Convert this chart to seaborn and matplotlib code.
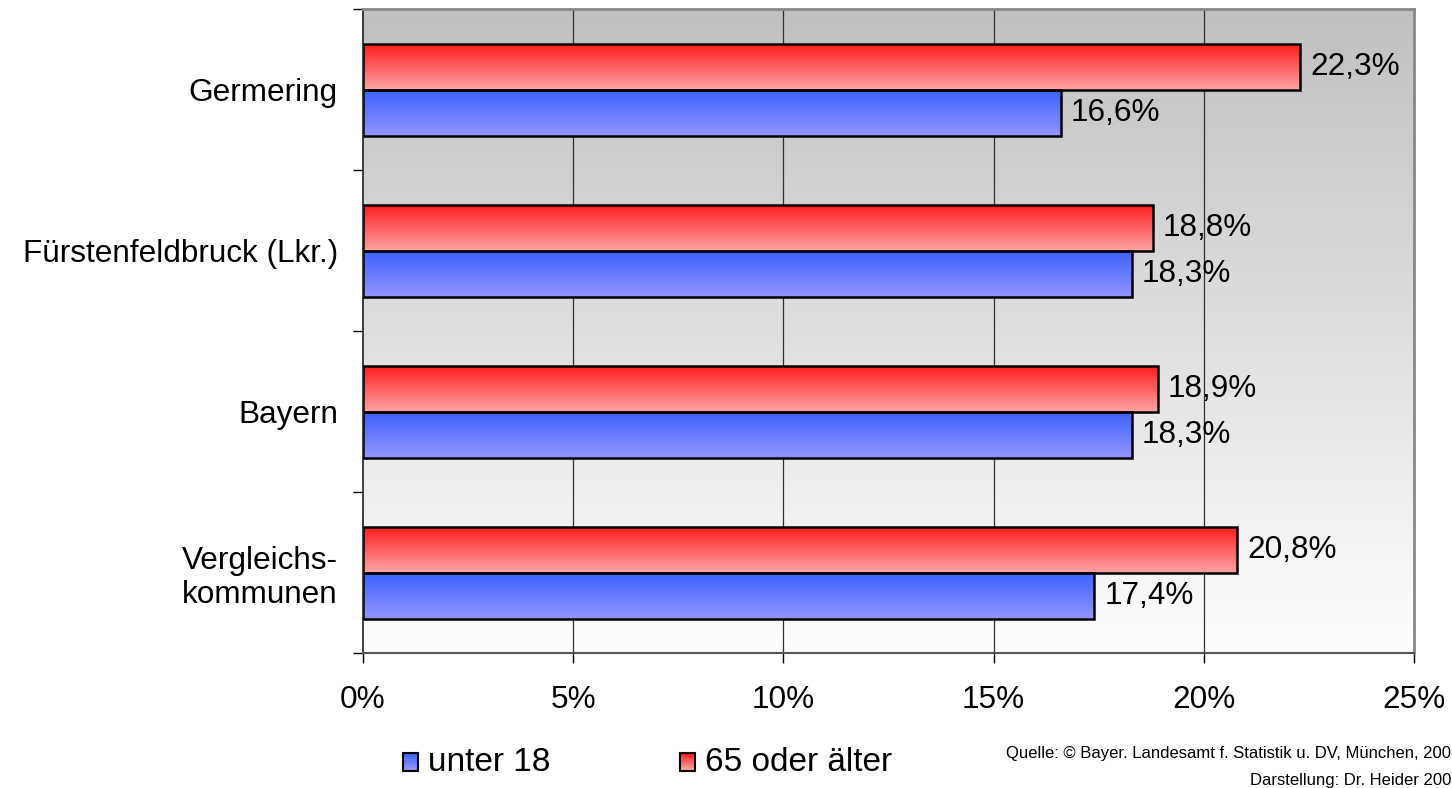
import numpy as np
import pandas as pd
import matplotlib
matplotlib.use("Agg")
import matplotlib.pyplot as plt
import seaborn as sns
from matplotlib.patches import Rectangle
from matplotlib.legend_handler import HandlerBase
from matplotlib.colors import to_rgb

regions = ["Germering", "Fürstenfeldbruck (Lkr.)", "Bayern", "Vergleichs-\nkommunen"]
unter_18 = [16.6, 18.3, 18.3, 17.4]
ab_65 = [22.3, 18.8, 18.9, 20.8]
groups = ["unter 18", "65 oder älter"]
x_ticks = [0, 5, 10, 15, 20, 25]

FS = 22.7

# gradient endpoints (top, bottom) for each series
grad = {
    "65 oder älter": ("#ff1c1c", "#ffa4a4"),
    "unter 18": ("#3a62ff", "#9494ff"),
}
palette = {"65 oder älter": "#ff1c1c", "unter 18": "#3a62ff"}

df = pd.DataFrame({
    "Region": regions * 2,
    "Gruppe": ["65 oder älter"] * len(regions) + ["unter 18"] * len(regions),
    "Anteil": ab_65 + unter_18,
})

sns.set_theme(style="white")
plt.rcParams["font.family"] = ["Liberation Sans", "DejaVu Sans"]
plt.rcParams["text.color"] = "black"
plt.rcParams["xtick.color"] = "black"
plt.rcParams["ytick.color"] = "black"

fig = plt.figure(figsize=(14.52, 7.88), dpi=100)
ax = fig.add_axes([0.25, 0.1713, 0.7238, 0.8167])

sns.barplot(data=df, x="Anteil", y="Region", hue="Gruppe",
            hue_order=["65 oder älter", "unter 18"], order=regions,
            orient="h", width=0.572, palette=palette, legend=False,
            ax=ax, saturation=1)

ax.set_xlim(0, 25)
ax.set_ylim(3.5, -0.5)


def gradient_img(top, bottom, n=64):
    t = np.linspace(0, 1, n)[:, None]
    c0 = np.array(to_rgb(top))
    c1 = np.array(to_rgb(bottom))
    return (c0 * (1 - t) + c1 * t)[:, None, :]


# plot-area background: grey at the top fading to white
ax.imshow(gradient_img("#c0c0c0", "#fefefe", 256), extent=[0, 1, 0, 1],
          transform=ax.transAxes, aspect="auto", zorder=0, origin="upper")

# gradient fill inside each bar
for container, name in zip(ax.containers, ["65 oder älter", "unter 18"]):
    top, bottom = grad[name]
    for bar in container:
        x0, y0 = bar.get_x(), bar.get_y()
        w, h = bar.get_width(), bar.get_height()
        img = ax.imshow(gradient_img(top, bottom), extent=[x0, x0 + w, y0 + h, y0],
                        aspect="auto", origin="upper", zorder=2,
                        interpolation="bilinear")
        img.set_clip_path(bar)
        bar.set_facecolor("none")
        bar.set_edgecolor("black")
        bar.set_linewidth(1.8)
        bar.set_zorder(3)
    ax.bar_label(container,
                 labels=[f"{v:.1f}%".replace(".", ",") for v in container.datavalues],
                 padding=7, fontsize=FS, color="black")

ax.set_xlim(0, 25)
ax.set_ylim(3.5, -0.5)

# vertical grid
for xv in x_ticks[1:-1]:
    ax.axvline(xv, color="#303030", lw=0.9, zorder=1)

ax.set_xticks(x_ticks)
ax.set_xticklabels([f"{v}%" for v in x_ticks], fontsize=FS)
ax.set_yticks(range(len(regions)))
ax.set_yticklabels(regions, fontsize=FS, ma="right", linespacing=1.15)
ax.set_yticks(np.arange(-0.5, len(regions), 1), minor=True)
ax.tick_params(axis="y", which="major", length=0, pad=18)
ax.tick_params(axis="y", which="minor", length=7, width=1, color="black", direction="out", left=True)
ax.tick_params(axis="x", which="major", length=7, width=1, color="black", direction="out", pad=16, bottom=True)
ax.set_xlabel("")
ax.set_ylabel("")

for side in ["top", "right"]:
    ax.spines[side].set_color("#888888")
    ax.spines[side].set_linewidth(2)
ax.spines["left"].set_color("#202020")
ax.spines["left"].set_linewidth(1.2)
ax.spines["bottom"].set_color("#555555")
ax.spines["bottom"].set_linewidth(1.5)
for s in ax.spines.values():
    s.set_zorder(5)


class GradientSquare(HandlerBase):
    def __init__(self, top, bottom):
        super().__init__()
        self.top, self.bottom = top, bottom

    def create_artists(self, legend, orig_handle, xdescent, ydescent,
                       width, height, fontsize, trans):
        artists = []
        n = 8
        cols = gradient_img(self.top, self.bottom, n)[:, 0, :]
        y_base = -ydescent - 0.12 * height
        for i in range(n):
            r = Rectangle((-xdescent, y_base + height * (n - 1 - i) / n),
                          width, height / n, facecolor=cols[i], edgecolor="none",
                          transform=trans)
            artists.append(r)
        artists.append(Rectangle((-xdescent, y_base), width, height,
                                 facecolor="none", edgecolor="black", lw=1.5,
                                 transform=trans))
        return artists


h_blue = Rectangle((0, 0), 1, 1)
h_red = Rectangle((0, 0), 1, 1)
fig.legend([h_blue, h_red], groups,
           handler_map={h_blue: GradientSquare(*grad["unter 18"]),
                        h_red: GradientSquare(*grad["65 oder älter"])},
           loc="center left", bbox_to_anchor=(0.2775, 0.032), ncol=2,
           frameon=False, fontsize=24, handlelength=0.45, handleheight=0.45,
           handletextpad=0.3, columnspacing=3.9, borderpad=0, borderaxespad=0)

# source note in the lower right corner
note_font = dict(ha="right", va="baseline", fontsize=12, color="black")
fig.text(1.006, 1 - 758 / 788, "Quelle: © Bayer. Landesamt f. Statistik u. DV, München, 2008",
         **note_font)
fig.text(1.006, 1 - 785 / 788, "Darstellung: Dr. Heider 2008", **note_font)

fig.savefig("out.png", dpi=100)
